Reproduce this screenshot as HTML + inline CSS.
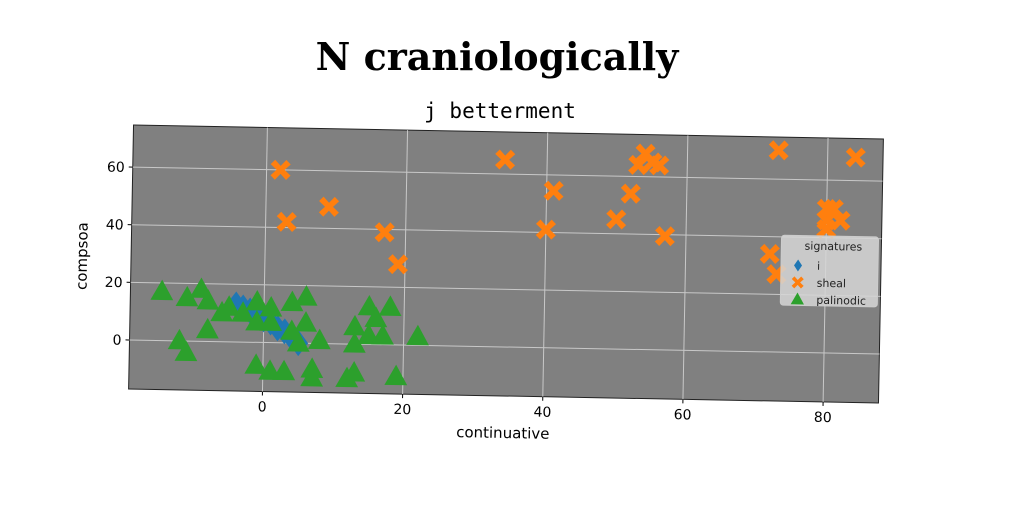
<!DOCTYPE html>
<html><head><meta charset="utf-8">
<style>
html,body{margin:0;padding:0;background:#fff;}
svg{display:block;font-family:"DejaVu Sans","Liberation Sans",sans-serif;}
</style></head>
<body>
<svg id="chart" width="1024" height="512" viewBox="0 0 1024 512">
<text x="497" y="70" text-anchor="middle" font-family="'DejaVu Serif','Liberation Serif',serif" font-weight="bold" font-size="38" fill="#000">N craniologically</text>
<text x="500" y="118" text-anchor="middle" font-family="'DejaVu Sans Mono','Liberation Mono',monospace" font-size="21" fill="#000">j betterment</text>
<g id="plot" transform="rotate(1.07 506 264)"></g>
</svg>
<script>
const xTicks=[0,20,40,60,80];
const yTicks=[0,20,40,60];
const iX=[-4,-3,-2,-1,0,1,2,3,4,5];
const iY=[13,12,11,9,8,7,5,4,2,0];
const shealX=[2,3,9,17,19,34,40,41,50,52,54,53,55,56,57,73,72,73,80,81,80,82,80,84];
const shealY=[60,42,47.5,39,28,65,41,54.5,45,54,68,64,65,64,39.5,70,34,27,50,50,46,46,43,68];
const palX=[-14.6,-11,-9,-8,-8,-12,-11,-6,-3,-1,1,-1,1,4,6,4,5,8,6,-1,1,3,7,7,12,13,13,15,16,18,15,17,13,19,22,-5];
const palY=[17,15,18,14,4,0,-4,10,10,14,12,7,7,14,16,4,0,1,7,-8,-10,-10,-9,-12,-12,-10,6,13,9,13,3,3,0,-11,3,12];

const NS='http://www.w3.org/2000/svg';
const L=131,R=881,T=132,B=396;
const xMin=-19.1,xMax=87.9,yMin=-17,yMax=74.6;
function sx(v){return L+(v-xMin)/(xMax-xMin)*(R-L);}
function sy(v){return B-(v-yMin)/(yMax-yMin)*(B-T);}
const g=document.getElementById('plot');
function mk(tag,attrs,parent){const e=document.createElementNS(NS,tag);for(const k in attrs)e.setAttribute(k,attrs[k]);(parent||g).appendChild(e);return e;}

const bg=mk('rect',{x:L,y:T,width:R-L,height:B-T,fill:'#808080',stroke:'#222','stroke-width':1});



xTicks.forEach(t=>{
  const ln=mk('line',{x1:sx(t),x2:sx(t),y1:T,y2:B,stroke:'#c8c8c8','stroke-width':1});
  
  
  const tk=mk('line',{x1:sx(t),x2:sx(t),y1:B,y2:B+4,stroke:'#000'});
  
  
  const tx=mk('text',{x:sx(t),y:B+20,'text-anchor':'middle','font-size':14,fill:'#000'});
  tx.textContent=t;
  
  
});
yTicks.forEach(t=>{
  const ln=mk('line',{x1:L,x2:R,y1:sy(t),y2:sy(t),stroke:'#c8c8c8','stroke-width':1});
  
  
  const tk=mk('line',{x1:L-4,x2:L,y1:sy(t),y2:sy(t),stroke:'#000'});
  
  
  const tx=mk('text',{x:L-8,y:sy(t)+5,'text-anchor':'end','font-size':14,fill:'#000'});
  tx.textContent=t;
  
  
});

function tri(x,y,s){return `${x},${y-s} ${x-s*0.95},${y+s*0.7} ${x+s*0.95},${y+s*0.7}`;}
function cross(x,y,s){const a=s,b=s*0.4;return `M${x-a},${y-a+b*1.1}L${x-a+b*1.1},${y-a}L${x},${y-b}L${x+a-b*1.1},${y-a}L${x+a},${y-a+b*1.1}L${x+b},${y}L${x+a},${y+a-b*1.1}L${x+a-b*1.1},${y+a}L${x},${y+b}L${x-a+b*1.1},${y+a}L${x-a},${y+a-b*1.1}L${x-b},${y}Z`;}

iX.forEach((v,i)=>{
  const x=sx(v),y=sy(iY[i]),s=13;
  const p=mk('polygon',{points:`${x},${y-s} ${x+s*0.75},${y} ${x},${y+s} ${x-s*0.75},${y}`,fill:'#1f77b4'});
  
  
});
shealX.forEach((v,i)=>{
  const p=mk('path',{d:cross(sx(v),sy(shealY[i]),10),fill:'#ff7f0e'});
  
  
});
palX.forEach((v,i)=>{
  const p=mk('polygon',{points:tri(sx(v),sy(palY[i]),12),fill:'#2ca02c'});
  
  
});

const xl=mk('text',{x:(L+R)/2,y:B+42,'text-anchor':'middle','font-size':15,fill:'#000'});
xl.textContent='continuative';


const yl=mk('text',{x:0,y:0,transform:`translate(${L-44},${(T+B)/2}) rotate(-90)`,'text-anchor':'middle','font-size':15,fill:'#000'});
yl.textContent='compsoa';



const lg=mk('g',{});


const lx=781,ly=230;
mk('rect',{x:lx,y:ly,width:97,height:70,rx:3,fill:'#d6d6d6','fill-opacity':0.85,stroke:'#ccc'},lg);
const lt=mk('text',{x:lx+52,y:ly+14,'text-anchor':'middle','font-size':11,fill:'#222'},lg);
lt.textContent='signatures';
const items=[['i','#1f77b4','d'],['sheal','#ff7f0e','x'],['palinodic','#2ca02c','t']];
items.forEach((it,k)=>{
  const cy=ly+30+k*17,cx=lx+17;
  let m;
  if(it[2]==='d')m=mk('polygon',{points:`${cx},${cy-6} ${cx+4},${cy} ${cx},${cy+6} ${cx-4},${cy}`,fill:it[1]},lg);
  else if(it[2]==='x')m=mk('path',{d:cross(cx,cy,6),fill:it[1]},lg);
  else m=mk('polygon',{points:tri(cx,cy,7),fill:it[1]},lg);
  
  
  const t=mk('text',{x:lx+36,y:cy+4,'font-size':11,fill:'#222'},lg);
  t.textContent=it[0];
  
  
});
</script>
</body></html>
